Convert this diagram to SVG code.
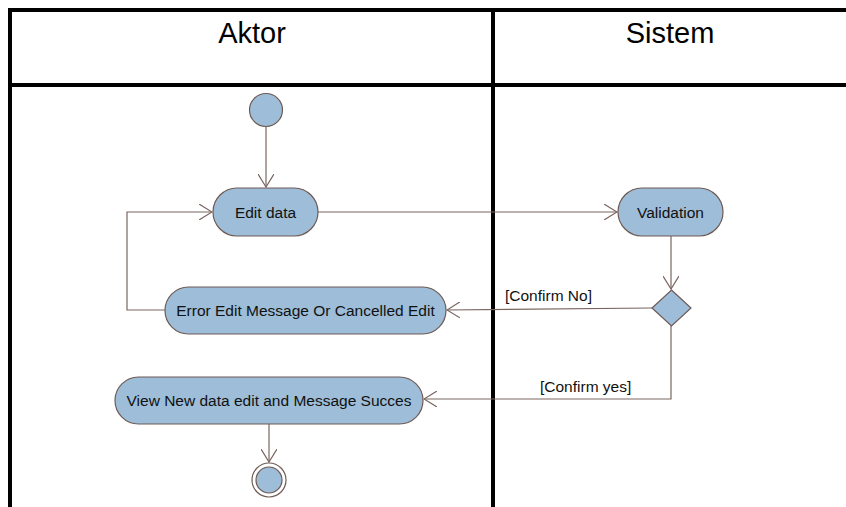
<svg xmlns="http://www.w3.org/2000/svg" width="846" height="507" viewBox="0 0 846 507">
<defs>
<style>
.frame{stroke:#000;stroke-width:4;fill:none}
.lane{font-family:"Liberation Sans",Arial,sans-serif;font-size:29px;fill:#000;text-anchor:middle}
.node{fill:#9dbdd8;stroke:#6e5a54;stroke-width:1.2}
.lbl{font-family:"Liberation Sans",Arial,sans-serif;font-size:15.5px;fill:#111;text-anchor:middle}
.guard{font-family:"Liberation Sans",Arial,sans-serif;font-size:15.5px;fill:#111}
.edge{stroke:#7a6660;stroke-width:1.2;fill:none}
</style>
<marker id="arr" viewBox="0 0 14 16" refX="13" refY="8" markerWidth="14" markerHeight="16" markerUnits="userSpaceOnUse" orient="auto">
<path d="M0,0 L13,8 L0,16" fill="none" stroke="#7a6660" stroke-width="1.2"/>
</marker>
</defs>
<rect width="846" height="507" fill="#fff"/>
<g id="swimlanes">
<path class="frame" d="M10,507 V10 H846"/>
<path class="frame" d="M10,85 H846"/>
<path class="frame" d="M493,8 V507"/>
<text class="lane" x="252" y="43">Aktor</text>
<text class="lane" x="670" y="43">Sistem</text>
</g>
<g id="connectors">
<path class="edge" d="M266,127 V187" marker-end="url(#arr)"/>
<path class="edge" d="M318,212 H617" marker-end="url(#arr)"/>
<path class="edge" d="M671,236 V289" marker-end="url(#arr)"/>
<path class="edge" d="M652,308 L447,310" marker-end="url(#arr)"/>
<path class="edge" d="M165,310 H127 V212 H212" marker-end="url(#arr)"/>
<path class="edge" d="M671,326 V399 H424" marker-end="url(#arr)"/>
<path class="edge" d="M269,424 V462" marker-end="url(#arr)"/>
<text class="guard" x="505" y="301">[Confirm No]</text>
<text class="guard" x="540" y="392">[Confirm yes]</text>
</g>
<g id="start">
<circle class="node" cx="266" cy="110" r="16.5"/>
</g>
<g id="edit-data">
<rect class="node" x="213" y="188" width="105" height="48" rx="24"/>
<text class="lbl" x="265.5" y="217.5">Edit data</text>
</g>
<g id="validation">
<rect class="node" x="618" y="188" width="105" height="48" rx="24"/>
<text class="lbl" x="670.5" y="217.5">Validation</text>
</g>
<g id="decision">
<polygon class="node" points="671.5,290 691,308 671.5,326 652,308"/>
</g>
<g id="error-message">
<rect class="node" x="165" y="287" width="281" height="47" rx="23.5"/>
<text class="lbl" x="305.5" y="316">Error Edit Message Or Cancelled Edit</text>
</g>
<g id="view-new-data">
<rect class="node" x="115" y="377" width="308" height="47" rx="23.5"/>
<text class="lbl" x="269" y="406">View New data edit and Message Succes</text>
</g>
<g id="end">
<circle cx="269" cy="480" r="17" fill="#fff" stroke="#6e5a54" stroke-width="1.2"/>
<circle class="node" cx="269" cy="480" r="13"/>
</g>
</svg>
